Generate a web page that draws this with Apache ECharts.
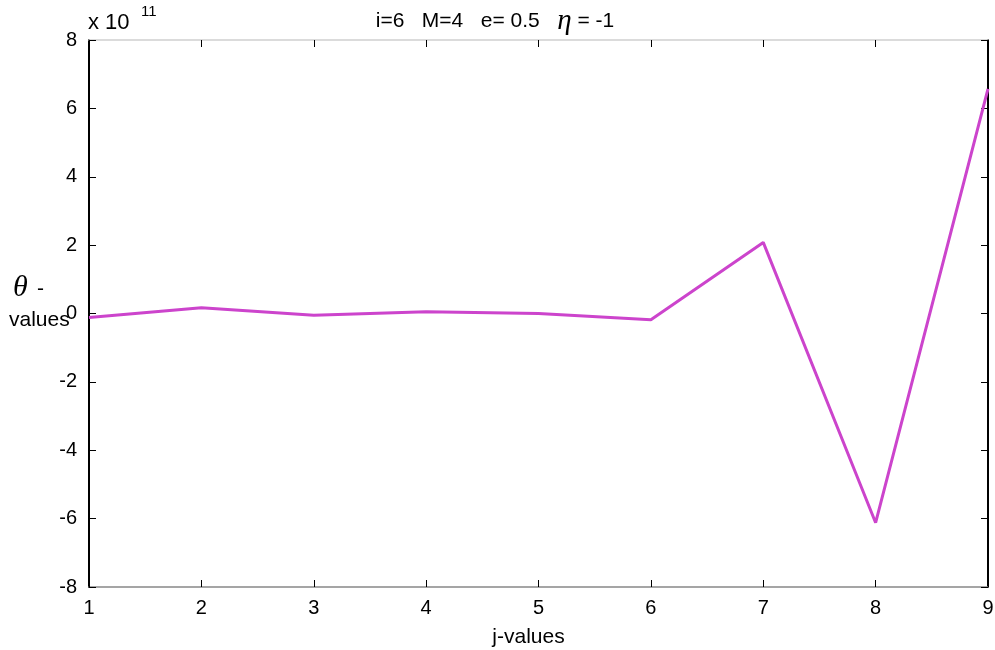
<!DOCTYPE html>
<html>
<head>
<meta charset="utf-8">
<script src="https://cdn.jsdelivr.net/npm/echarts@6/dist/echarts.min.js"></script>
<style>
  html, body { margin: 0; padding: 0; background: #fff; }
  #chart { width: 995px; height: 650px; }
</style>
</head>
<body>
<div id="chart"></div>
<script>
// j positions along the horizontal axis
const jValues = [1, 2, 3, 4, 5, 6, 7, 8, 9];
// theta values, in units of 10^11
const thetaValues = [-0.12, 0.17, -0.05, 0.05, 0.0, -0.18, 2.08, -6.12, 6.57];
// vertical tick labels
const yTicks = [-8, -6, -4, -2, 0, 2, 4, 6, 8];

const FONT = '"Liberation Sans", Arial, sans-serif';
const SERIF = '"Liberation Serif", "DejaVu Serif", serif';
const chart = echarts.init(document.getElementById('chart'));

chart.setOption({
  animation: false,
  backgroundColor: '#ffffff',
  title: {
    text: '{t|i=6   M=4   e= 0.5   }{eta|η}{t| = -1}',
    left: 490,
    textAlign: 'center',
    top: 2,
    textStyle: {
      fontWeight: 'normal',
      rich: {
        t: { fontFamily: FONT, fontSize: 21, fontWeight: 'normal', color: '#000' },
        eta: { fontFamily: SERIF, fontStyle: 'italic', fontWeight: 'normal', fontSize: 29, color: '#000' }
      }
    }
  },
  grid: { left: 89, right: 7, top: 40, bottom: 63, containLabel: false, outerBoundsMode: 'none' },
  xAxis: [
    {
      type: 'value', min: 1, max: 9, interval: 1,
      axisLine: { show: true, onZero: false, lineStyle: { color: '#888', width: 1.5 } },
      axisTick: { show: true, inside: true, length: 7, lineStyle: { color: '#000' } },
      axisLabel: { color: '#000', fontFamily: FONT, fontSize: 20, margin: 11 },
      splitLine: { show: false },
      name: 'j-values', nameLocation: 'middle', nameGap: 40,
      nameTextStyle: { color: '#000', fontFamily: FONT, fontSize: 21, padding: [0, 20, 0, 0] }
    },
    {
      type: 'value', min: 1, max: 9, interval: 1, position: 'top',
      axisLine: { show: true, onZero: false, lineStyle: { color: '#d0d0d0', width: 1.5 } },
      axisTick: { show: true, inside: true, length: 7, lineStyle: { color: '#000' } },
      axisLabel: { show: false },
      splitLine: { show: false }
    }
  ],
  yAxis: [
    {
      type: 'value', min: -8, max: 8, interval: 2,
      axisLine: { show: true, onZero: false, lineStyle: { color: '#000', width: 2 } },
      axisTick: { show: true, inside: true, length: 7, lineStyle: { color: '#000' } },
      axisLabel: { color: '#000', fontFamily: FONT, fontSize: 20, margin: 12,
        formatter: (v) => String(yTicks.find((t) => t === v) ?? v) },
      splitLine: { show: false }
    },
    {
      type: 'value', min: -8, max: 8, interval: 2, position: 'right',
      axisLine: { show: true, onZero: false, lineStyle: { color: '#000', width: 2 } },
      axisTick: { show: true, inside: true, length: 7, lineStyle: { color: '#000' } },
      axisLabel: { show: false },
      splitLine: { show: false }
    }
  ],
  graphic: [
    {
      type: 'text', left: 88, top: 12,
      style: { text: 'x 10', fontFamily: FONT, fontSize: 22, fill: '#000' }
    },
    {
      type: 'text', left: 141, top: 4,
      style: { text: '11', fontFamily: FONT, fontSize: 15, fill: '#000' }
    },
    {
      type: 'text', left: 13, top: 273,
      style: { text: 'θ', fontFamily: SERIF, fontStyle: 'italic', fontSize: 30, fill: '#000' }
    },
    {
      type: 'text', left: 37, top: 279,
      style: { text: '-', fontFamily: FONT, fontSize: 21, fill: '#000' }
    },
    {
      type: 'text', left: 9, top: 310,
      style: { text: 'values', fontFamily: FONT, fontSize: 21, fill: '#000' }
    }
  ],
  series: [
    {
      type: 'line',
      xAxisIndex: 0, yAxisIndex: 0,
      data: jValues.map((j, i) => [j, thetaValues[i]]),
      symbol: 'none',
      lineStyle: { color: '#CC44CC', width: 3 },
      silent: true
    }
  ]
});
</script>
</body>
</html>
